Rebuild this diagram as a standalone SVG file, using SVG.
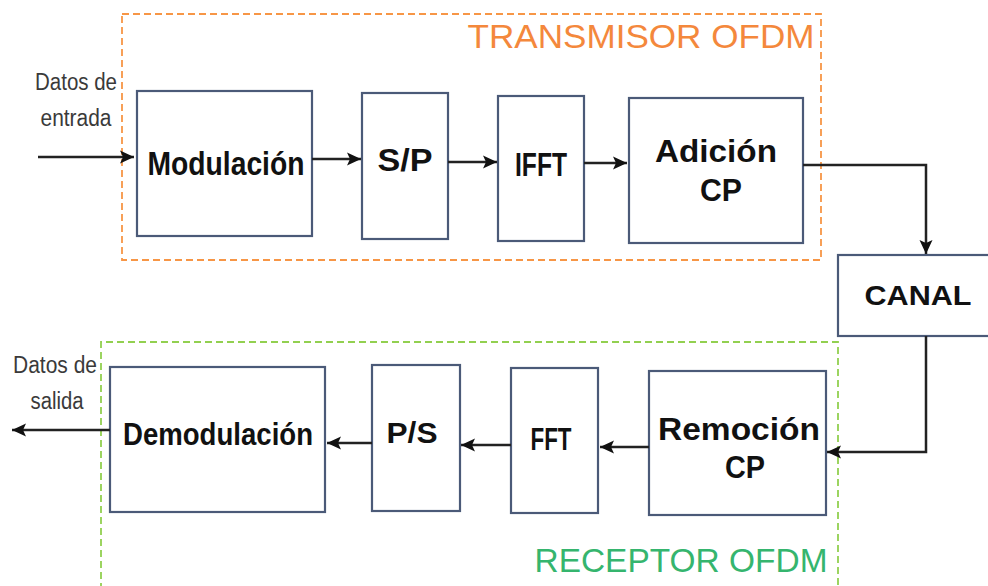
<svg xmlns="http://www.w3.org/2000/svg" width="988" height="586" viewBox="0 0 988 586">
<defs>
<marker id="ah" markerUnits="userSpaceOnUse" markerWidth="15" markerHeight="15" viewBox="0 0 15 15" refX="14" refY="7.5" orient="auto">
<path d="M0,1 L14,7.5 L0,14 L3,7.5 z" fill="#111"/>
</marker>
<style>
.box{fill:#fff;stroke:#4b5a78;stroke-width:2.2}
.lbl{font-family:"Liberation Sans",Arial,sans-serif;font-weight:bold;fill:#111;text-anchor:middle}
.small{font-family:"Liberation Sans",Arial,sans-serif;fill:#3a3a3a;font-size:23px;text-anchor:middle}
.con{fill:none;stroke:#222;stroke-width:2.5;marker-end:url(#ah)}
</style>
</defs>
<rect width="988" height="586" fill="#fff"/>

<g id="transmisor">
<rect x="122" y="14" width="699" height="246" fill="none" stroke="#f79646" stroke-width="1.8" stroke-dasharray="7,4"/>
<text x="641" y="48" font-family="Liberation Sans,Arial,sans-serif" font-size="34" fill="#f4883c" text-anchor="middle" textLength="347" lengthAdjust="spacingAndGlyphs">TRANSMISOR OFDM</text>
</g>
<g id="receptor">
<path d="M101,590 L101,342 L838,342 L838,590" fill="none" stroke="#92d050" stroke-width="1.8" stroke-dasharray="7,4"/>
<text x="681" y="572" font-family="Liberation Sans,Arial,sans-serif" font-size="34" fill="#35b56e" text-anchor="middle" textLength="293" lengthAdjust="spacingAndGlyphs">RECEPTOR OFDM</text>
</g>

<g id="entrada">
<text class="small" x="76" y="90" textLength="82" lengthAdjust="spacingAndGlyphs">Datos de</text>
<text class="small" x="76" y="126" textLength="71" lengthAdjust="spacingAndGlyphs">entrada</text>
</g>
<g id="salida">
<text class="small" x="55" y="373" textLength="84" lengthAdjust="spacingAndGlyphs">Datos de</text>
<text class="small" x="57" y="409" textLength="53" lengthAdjust="spacingAndGlyphs">salida</text>
</g>

<g id="modulacion">
<rect class="box" x="137" y="91" width="175" height="145"/>
<text class="lbl" x="226" y="175" font-size="33" textLength="157" lengthAdjust="spacingAndGlyphs">Modulación</text>
</g>
<g id="sp">
<rect class="box" x="362" y="93" width="86" height="146"/>
<text class="lbl" x="405" y="171" font-size="31" textLength="55" lengthAdjust="spacingAndGlyphs">S/P</text>
</g>
<g id="ifft">
<rect class="box" x="498" y="96" width="86" height="145"/>
<text class="lbl" x="541" y="176" font-size="33" textLength="52" lengthAdjust="spacingAndGlyphs">IFFT</text>
</g>
<g id="adicion">
<rect class="box" x="629" y="98" width="174" height="145"/>
<text class="lbl" x="716" y="162" font-size="31" textLength="122" lengthAdjust="spacingAndGlyphs">Adición</text>
<text class="lbl" x="721" y="201" font-size="31" textLength="42" lengthAdjust="spacingAndGlyphs">CP</text>
</g>
<g id="canal">
<rect class="box" x="838" y="255" width="160" height="81"/>
<text class="lbl" x="918" y="305" font-size="28" textLength="107" lengthAdjust="spacingAndGlyphs">CANAL</text>
</g>
<g id="remocion">
<rect class="box" x="649" y="371" width="177" height="144"/>
<text class="lbl" x="739" y="440" font-size="31" textLength="162" lengthAdjust="spacingAndGlyphs">Remoción</text>
<text class="lbl" x="745" y="478" font-size="31" textLength="40" lengthAdjust="spacingAndGlyphs">CP</text>
</g>
<g id="fft">
<rect class="box" x="511" y="368" width="87" height="145"/>
<text class="lbl" x="551" y="450" font-size="32" textLength="41" lengthAdjust="spacingAndGlyphs">FFT</text>
</g>
<g id="ps">
<rect class="box" x="372" y="365" width="88" height="146"/>
<text class="lbl" x="412" y="443" font-size="30" textLength="51" lengthAdjust="spacingAndGlyphs">P/S</text>
</g>
<g id="demodulacion">
<rect class="box" x="110" y="367" width="215" height="145"/>
<text class="lbl" x="218" y="445" font-size="32" textLength="190" lengthAdjust="spacingAndGlyphs">Demodulación</text>
</g>

<g id="connectors">
<path class="con" d="M38,157 L134,157"/>
<path class="con" d="M312,159 L361,159"/>
<path class="con" d="M448,162 L497,162"/>
<path class="con" d="M584,163 L627,163"/>
<path class="con" d="M803,165 L926,165 L926,254"/>
<path class="con" d="M926,336 L926,452 L827,452"/>
<path class="con" d="M649,447 L600,447"/>
<path class="con" d="M511,445 L461,445"/>
<path class="con" d="M372,443 L327,443"/>
<path class="con" d="M110,430 L12,430"/>
</g>
</svg>
